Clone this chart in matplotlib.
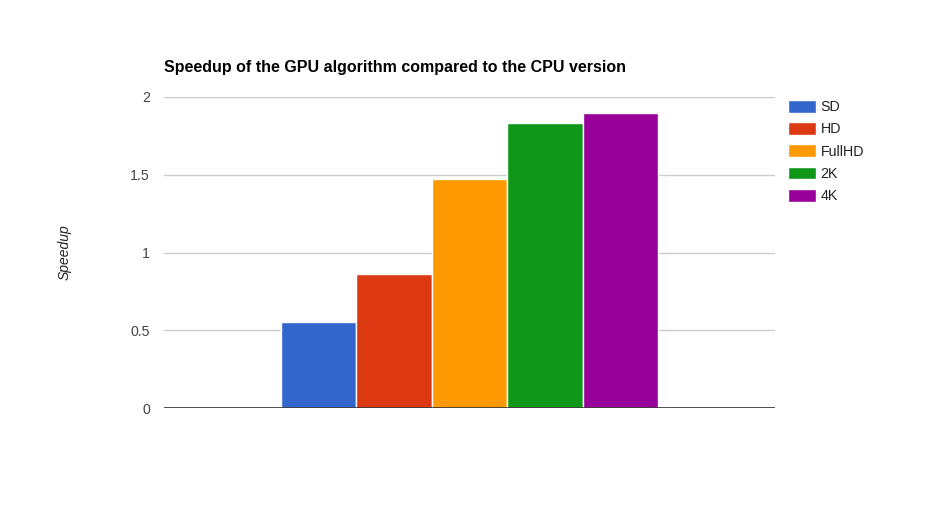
import matplotlib
matplotlib.use("Agg")
import matplotlib.pyplot as plt

resolutions = ["SD", "HD", "FullHD", "2K", "4K"]
speedups = [0.55, 0.86, 1.47, 1.83, 1.9]
colors = ["#3366cc", "#dc3912", "#ff9900", "#109618", "#990099"]
yticks = [0, 0.5, 1, 1.5, 2]
ytick_labels = ["0", "0.5", "1", "1.5", "2"]

plt.rcParams["font.family"] = ["Liberation Sans", "DejaVu Sans"]

W, H = 939, 505
fig = plt.figure(figsize=(W / 100, H / 100), dpi=100)
ax = fig.add_axes([164 / W, (H - 408) / H, (775 - 164) / W, (408 - 97) / H])

n = len(resolutions)
for i, (name, val, col) in enumerate(zip(resolutions, speedups, colors)):
    ax.bar(i - (n - 1) / 2, val, width=1.0, color=col, edgecolor="white",
           linewidth=1.0, label=name, zorder=2)

half = (775 - 164) / 2 / 75.4
ax.set_xlim(-half, half)
ax.set_ylim(0, 2)
ax.set_yticks(yticks)
ax.set_yticklabels(ytick_labels)
ax.set_xticks([])
ax.yaxis.grid(True, color="#cccccc", linewidth=1, zorder=0)
ax.axhline(0, color="#333333", linewidth=1.2, zorder=3)
for s in ax.spines.values():
    s.set_visible(False)
ax.tick_params(axis="y", length=0, pad=10, labelsize=10.2, labelcolor="#444444")

ax.set_title("Speedup of the GPU algorithm compared to the CPU version",
             loc="left", fontsize=11.5, fontweight="bold", pad=18)
fig.text(65 / W, 1 - 252 / H, "Speedup", rotation=90, style="italic",
         fontsize=10, color="#222222", ha="center", va="center")

leg = ax.legend(loc="upper left", bbox_to_anchor=(782 / W, 1 - 94 / H),
                bbox_transform=fig.transFigure, frameon=False, fontsize=10.3,
                handlelength=1.95, handleheight=1.0, handletextpad=0.35,
                labelspacing=0.56, borderaxespad=0)
for t in leg.get_texts():
    t.set_color("#222222")

fig.savefig("out.png", dpi=100)
